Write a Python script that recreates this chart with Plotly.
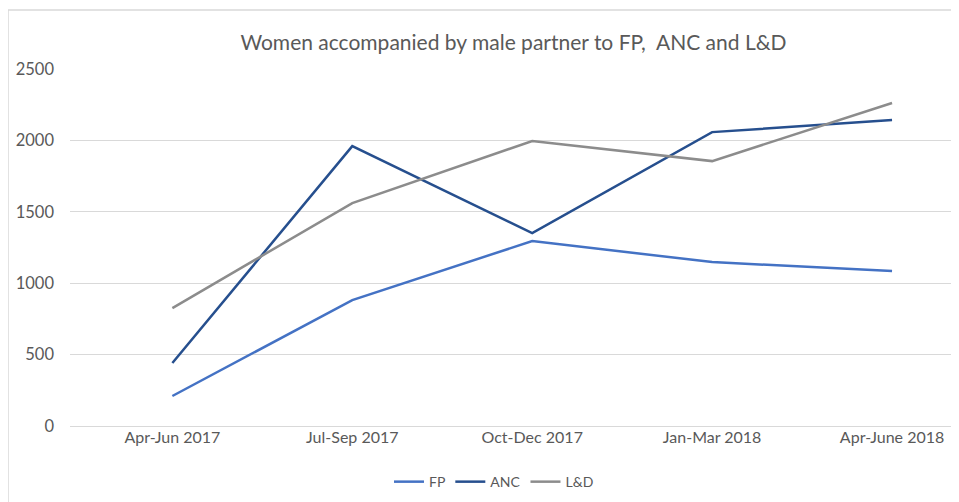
import plotly.graph_objects as go

categories = ["Apr-Jun 2017", "Jul-Sep 2017", "Oct-Dec 2017", "Jan-Mar 2018", "Apr-June 2018"]
fp = [210, 882, 1295, 1148, 1085]
anc = [441, 1960, 1351, 2058, 2142]
ld = [826, 1561, 1996, 1855, 2262]
y_ticks = [0, 500, 1000, 1500, 2000, 2500]

FONT = "Lato"
fig = go.Figure()
for name, vals, color in [("FP", fp, "#4472C4"), ("ANC", anc, "#264F8E"), ("L&D", ld, "#8C8C8C")]:
    fig.add_trace(go.Scatter(x=categories, y=vals, name=name, mode="lines",
                             line=dict(color=color, width=2.5)))

W, H = 951, 494
fig.update_layout(
    width=W, height=H,
    margin=dict(l=62, r=2, t=61, b=76),
    paper_bgcolor="white", plot_bgcolor="white",
    font=dict(family=FONT, color="#595959", size=15),
    title=dict(text="Women accompanied by male partner to FP,  ANC and L&D",
               x=0.5, xref="paper", xanchor="center",
               y=1 - 35 / H, yref="container", yanchor="middle",
               font=dict(family=FONT, size=21, color="#595959")),
    xaxis=dict(type="category", range=[-0.569, 4.361], showgrid=False,
               showline=False, ticks="", tickfont=dict(size=16), automargin=False),
    yaxis=dict(range=[0, 2500], tickvals=y_ticks, showgrid=True, gridcolor="#D9D9D9",
               gridwidth=1, zeroline=True, zerolinecolor="#D9D9D9", zerolinewidth=1,
               showline=False, ticks="", ticklabelstandoff=15, tickfont=dict(size=16.5),
               automargin=False),
    legend=dict(orientation="h", x=0.478, xanchor="center", y=-0.157, yanchor="middle",
                font=dict(size=14, color="#595959"), itemwidth=30, tracegroupgap=0),
    showlegend=True,
    shapes=[dict(type="rect", xref="paper", yref="paper", x0=-0.0699, x1=1.05,
                 y0=-0.3, y1=1.165, line=dict(color="#D9D9D9", width=1.5), layer="below")],
)

fig.write_html("out.html")
